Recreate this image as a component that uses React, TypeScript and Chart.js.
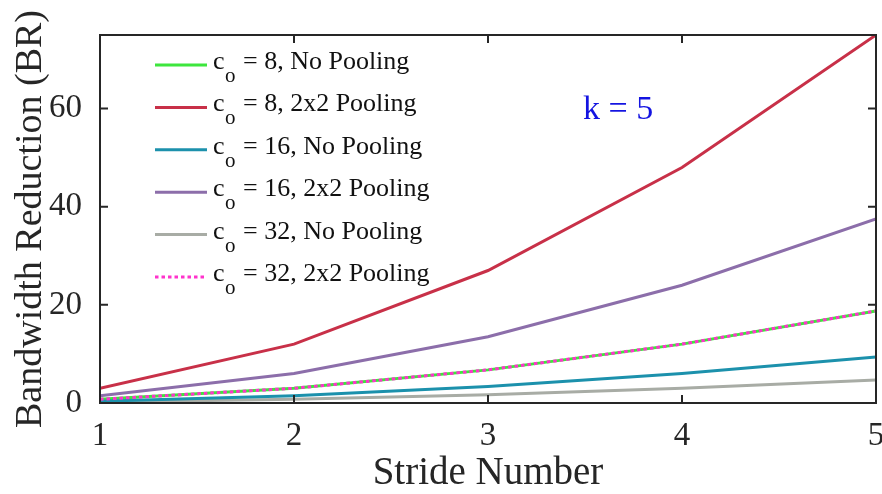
import React, { useEffect, useRef } from "react";
import { Chart, registerables } from "chart.js";

Chart.register(...registerables);

const strides = [1, 2, 3, 4, 5];
const co8NoPool = [0.75, 3, 6.75, 12, 18.75];
const co8Pool = [3, 12, 27, 48, 75];
const co16NoPool = [0.375, 1.5, 3.375, 6, 9.375];
const co16Pool = [1.5, 6, 13.5, 24, 37.5];
const co32NoPool = [0.1875, 0.75, 1.6875, 3, 4.6875];
const co32Pool = [0.75, 3, 6.75, 12, 18.75];
const yTicks = [0, 20, 40, 60];
const xTicks = [1, 2, 3, 4, 5];

const legendItems = [
  { rest: "= 8, No Pooling", color: "rgb(61,230,61)", dash: [] as number[], order: 5 },
  { rest: "= 8, 2x2 Pooling", color: "rgb(200,48,72)", dash: [] as number[], order: 1 },
  { rest: "= 16, No Pooling", color: "rgb(28,145,172)", dash: [] as number[], order: 3 },
  { rest: "= 16, 2x2 Pooling", color: "rgb(140,110,170)", dash: [] as number[], order: 2 },
  { rest: "= 32, No Pooling", color: "rgb(168,172,165)", dash: [] as number[], order: 4 },
  { rest: "= 32, 2x2 Pooling", color: "rgb(255,51,204)", dash: [3.5, 3] as number[], order: 0 },
];

const FONT = "'Liberation Serif', 'Times New Roman', serif";

export default function App() {
  const ref = useRef<HTMLCanvasElement>(null);
  useEffect(() => {
    document.body.style.margin = "0";
    const canvas = ref.current!;
    const mk = (data: number[], i: number) => ({
      data: strides.map((x, j) => ({ x, y: data[j] })),
      borderColor: legendItems[i].color,
      borderDash: legendItems[i].dash,
      borderWidth: 3,
      pointRadius: 0,
      fill: false,
      tension: 0,
      order: legendItems[i].order,
    });
    const overlay = {
      id: "overlay",
      afterDraw(chart: any) {
        const ctx = chart.ctx;
        const { left, right, top, bottom } = chart.chartArea;
        const xs = chart.scales.x;
        const ys = chart.scales.y;
        ctx.save();
        ctx.strokeStyle = "#262626";
        ctx.lineWidth = 2;
        ctx.strokeRect(left, top, right - left, bottom - top);
        const tl = 8;
        xTicks.forEach((v) => {
          const px = xs.getPixelForValue(v);
          ctx.beginPath();
          ctx.moveTo(px, bottom);
          ctx.lineTo(px, bottom - tl);
          ctx.moveTo(px, top);
          ctx.lineTo(px, top + tl);
          ctx.stroke();
        });
        yTicks.forEach((v) => {
          const py = ys.getPixelForValue(v);
          ctx.beginPath();
          ctx.moveTo(left, py);
          ctx.lineTo(left + tl, py);
          ctx.moveTo(right, py);
          ctx.lineTo(right - tl, py);
          ctx.stroke();
        });
        // legend
        const lx0 = 155, lx1 = 207, y0 = 65, dy = 42.4;
        legendItems.forEach((it, i) => {
          const y = y0 + i * dy;
          ctx.strokeStyle = it.color;
          ctx.lineWidth = 3;
          ctx.setLineDash(it.dash);
          ctx.beginPath();
          ctx.moveTo(lx0, y);
          ctx.lineTo(lx1, y);
          ctx.stroke();
          ctx.setLineDash([]);
          ctx.fillStyle = "#111";
          ctx.textBaseline = "alphabetic";
          ctx.textAlign = "left";
          ctx.font = `26px ${FONT}`;
          ctx.fillText("c", 213, y + 4);
          ctx.font = `21px ${FONT}`;
          ctx.fillText("o", 225, y + 17);
          ctx.font = `26px ${FONT}`;
          ctx.fillText(it.rest, 243, y + 4);
        });
        ctx.fillStyle = "rgb(20,20,225)";
        ctx.font = `34px ${FONT}`;
        ctx.textAlign = "left";
        ctx.textBaseline = "alphabetic";
        ctx.fillText("k = 5", 583, 119);
        ctx.restore();
      },
    };
    const chart = new Chart(canvas, {
      type: "line",
      data: {
        datasets: [
          mk(co8NoPool, 0),
          mk(co8Pool, 1),
          mk(co16NoPool, 2),
          mk(co16Pool, 3),
          mk(co32NoPool, 4),
          mk(co32Pool, 5),
        ],
      },
      options: {
        animation: false,
        responsive: false,
        maintainAspectRatio: false,
        layout: { padding: { top: 35, right: 6, left: 0, bottom: 0 } },
        plugins: { legend: { display: false }, tooltip: { enabled: false } },
        scales: {
          x: {
            type: "linear",
            min: 1,
            max: 5,
            afterBuildTicks: (s: any) => {
              s.ticks = xTicks.map((v) => ({ value: v }));
            },
            afterFit: (s: any) => {
              s.height = 91;
              s.paddingLeft = 0;
              s.paddingRight = 0;
            },
            grid: { display: false },
            border: { display: false },
            ticks: { color: "#262626", font: { family: FONT, size: 33 }, padding: 6, maxRotation: 0 },
            title: {
              display: true,
              text: "Stride Number",
              color: "#262626",
              font: { family: FONT, size: 39 },
              padding: { top: 0, bottom: -3 },
            },
          },
          y: {
            type: "linear",
            min: 0,
            max: 75,
            afterBuildTicks: (s: any) => {
              s.ticks = yTicks.map((v) => ({ value: v }));
            },
            afterFit: (s: any) => {
              s.width = 100;
              s.paddingTop = 0;
              s.paddingBottom = 0;
            },
            grid: { display: false },
            border: { display: false },
            ticks: { color: "#262626", font: { family: FONT, size: 33 }, padding: 10 },
            title: {
              display: true,
              text: "Bandwidth Reduction (BR)",
              color: "#262626",
              font: { family: FONT, size: 38 },
              padding: { top: 8, bottom: 0 },
            },
          },
        },
      },
      plugins: [overlay],
    });
    return () => chart.destroy();
  }, []);
  return (
    <div style={{ width: 882, height: 494, background: "#fff" }}>
      <canvas ref={ref} width={882} height={494} style={{ display: "block" }} />
    </div>
  );
}
